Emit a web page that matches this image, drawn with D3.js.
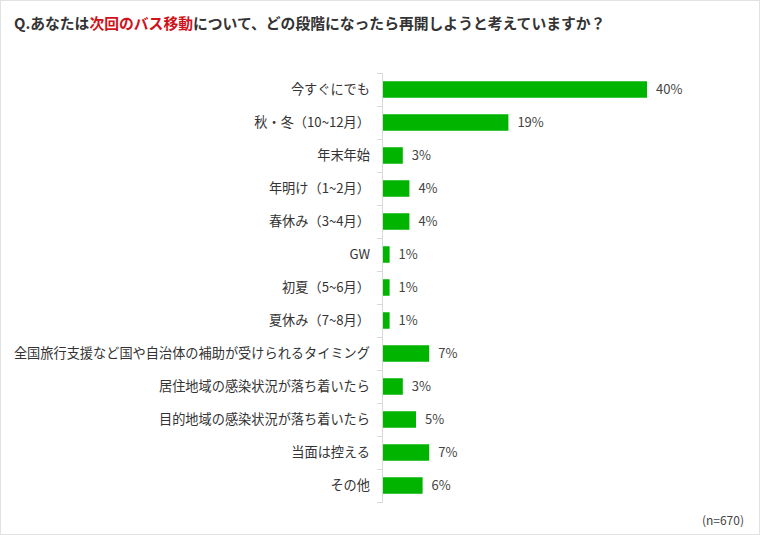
<!DOCTYPE html>
<html>
<head>
<meta charset="utf-8">
<script src="https://cdn.jsdelivr.net/npm/d3@7"></script>
<style>
  body { margin: 0; background: #fff; }
  svg { display: block; font-family: "Noto Sans CJK JP", "Noto Sans", sans-serif; }
</style>
</head>
<body>
<svg id="chart" width="760" height="535"></svg>
<script>
// data
var categories = [
  "今すぐにでも", "秋・冬（10~12月）", "年末年始", "年明け（1~2月）", "春休み（3~4月）",
  "GW", "初夏（5~6月）", "夏休み（7~8月）",
  "全国旅行支援など国や自治体の補助が受けられるタイミング",
  "居住地域の感染状況が落ち着いたら", "目的地域の感染状況が落ち着いたら",
  "当面は控える", "その他"
];
var values = [40, 19, 3, 4, 4, 1, 1, 1, 7, 3, 5, 7, 6];
var titleParts = [
  ["Q.あなたは", "#333"],
  ["次回のバス移動", "#d0121b"],
  ["について、どの段階になったら再開しようと考えていますか？", "#333"]
];
var note = "(n=670)";

var svg = d3.select("#chart");
var width = 760, height = 535;

// frame
svg.append("rect")
  .attr("x", 0.5).attr("y", 0.5)
  .attr("width", width - 1).attr("height", height - 1)
  .attr("fill", "#fff")
  .attr("stroke", "#e2e2e2");

// title
var title = svg.append("text")
  .attr("x", 14).attr("y", 29)
  .style("font-size", "14.8px")
  .style("font-weight", "bold");
titleParts.forEach(function(p) {
  title.append("tspan").attr("fill", p[1]).text(p[0]);
});

var left = 383;
var x = d3.scaleLinear().domain([0, 50]).range([left, left + 330]);
var y = d3.scaleBand().domain(categories).range([73, 502]).paddingInner(0.5).paddingOuter(0.25);

// axis line + ticks at band boundaries
var step = y.step();
var axisG = svg.append("g");
axisG.append("line")
  .attr("x1", left - 0.5).attr("x2", left - 0.5)
  .attr("y1", 73).attr("y2", 502)
  .attr("stroke", "#d9d9d9");
d3.range(categories.length + 1).forEach(function(i) {
  axisG.append("line")
    .attr("x1", left - 6).attr("x2", left)
    .attr("y1", 73 + step * i + 0.5).attr("y2", 73 + step * i + 0.5)
    .attr("stroke", "#d9d9d9");
});

// bars
svg.selectAll(".bar")
  .data(categories)
  .enter().append("rect")
  .attr("class", "bar")
  .attr("x", x(0))
  .attr("y", function(d) { return y(d); })
  .attr("width", function(d, i) { return x(values[i]) - x(0); })
  .attr("height", y.bandwidth())
  .attr("fill", "#00b400");

// category labels
svg.selectAll(".cat")
  .data(categories)
  .enter().append("text")
  .attr("class", "cat")
  .attr("x", left - 13)
  .attr("y", function(d) { return y(d) + y.bandwidth() / 2; })
  .attr("dy", "0.35em")
  .attr("text-anchor", "end")
  .style("font-size", "13.2px")
  .attr("fill", "#333")
  .text(function(d) { return d; });

// value labels
svg.selectAll(".val")
  .data(categories)
  .enter().append("text")
  .attr("class", "val")
  .attr("x", function(d, i) { return x(values[i]) + 9; })
  .attr("y", function(d) { return y(d) + y.bandwidth() / 2; })
  .attr("dy", "0.35em")
  .style("font-size", "13px")
  .attr("fill", "#444")
  .text(function(d, i) { return values[i] + "%"; });

// sample size
svg.append("text")
  .attr("x", 744).attr("y", 525)
  .attr("text-anchor", "end")
  .style("font-size", "12px")
  .attr("fill", "#444")
  .text(note);
</script>
</body>
</html>
